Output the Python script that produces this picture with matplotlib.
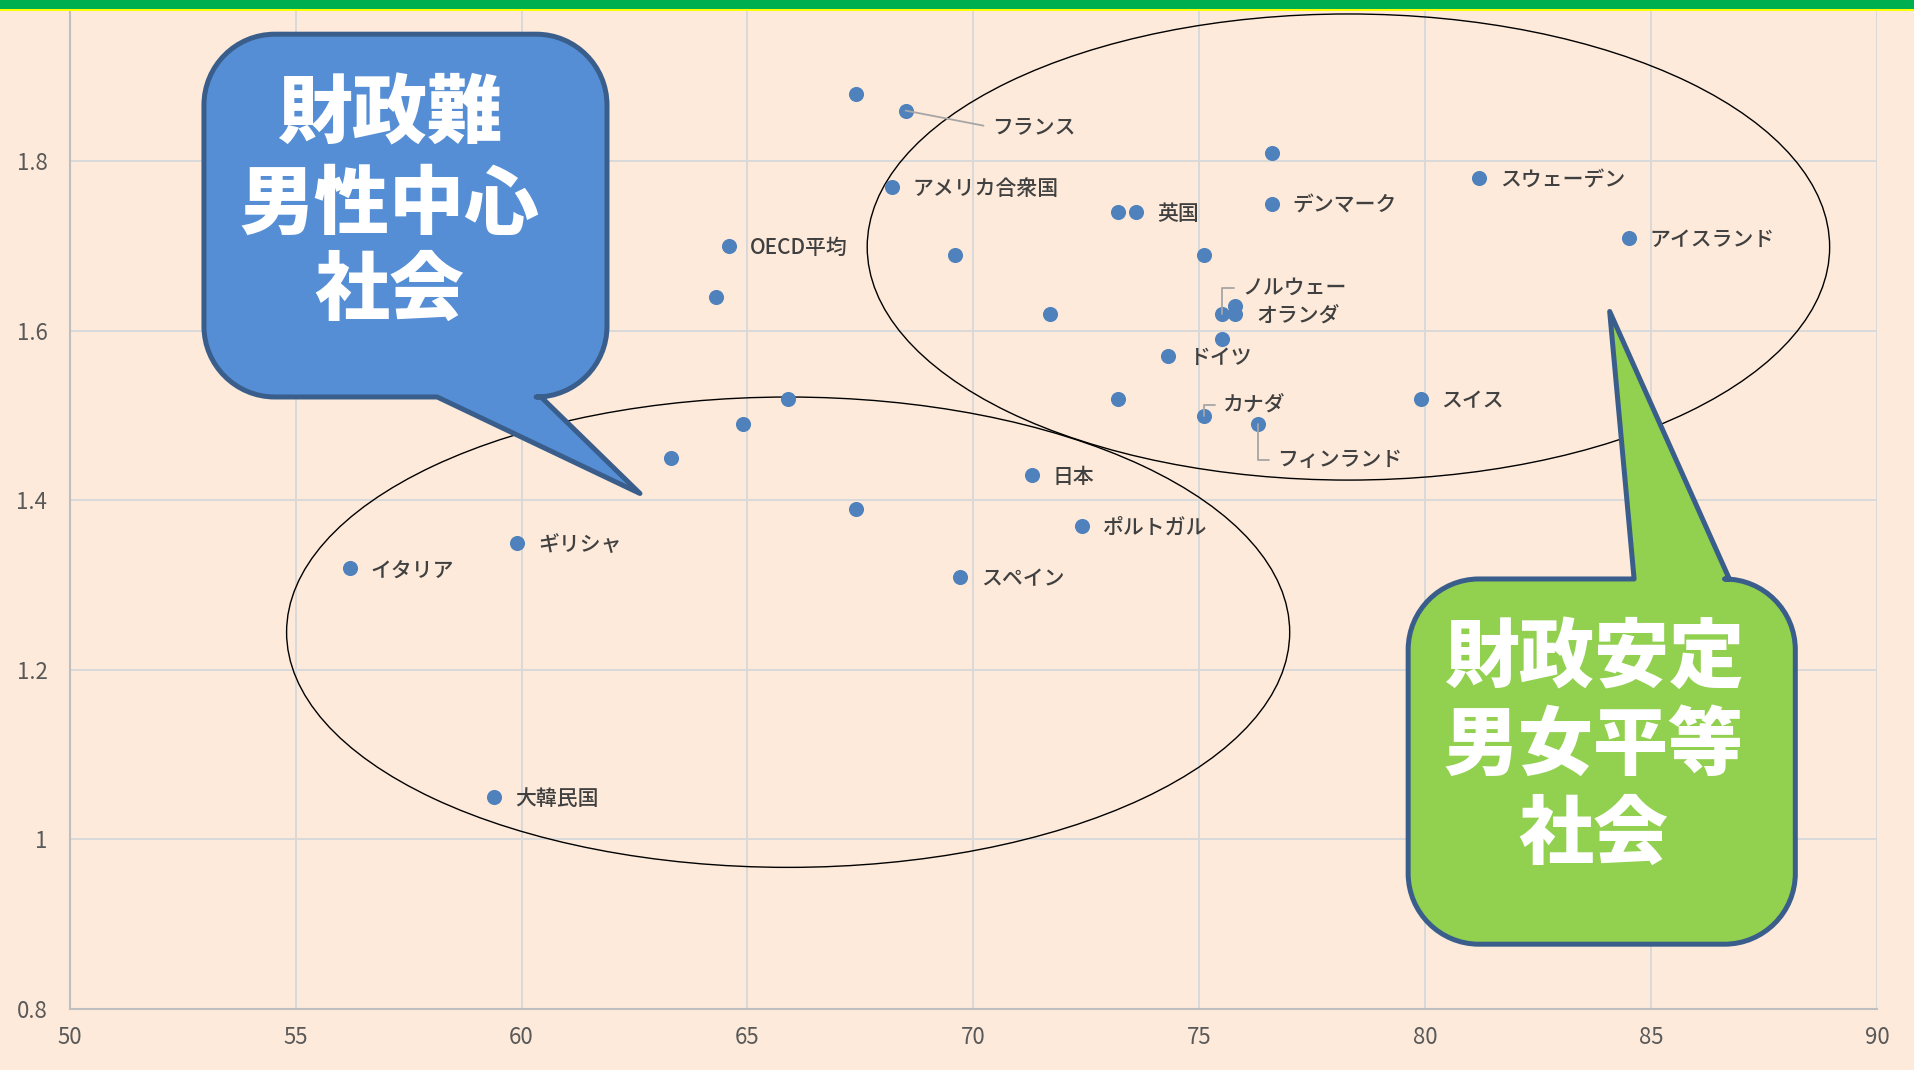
import matplotlib
matplotlib.use("Agg")
import matplotlib.pyplot as plt
from matplotlib.patches import Ellipse, PathPatch, Rectangle
from matplotlib.path import Path
from matplotlib.transforms import Affine2D

plt.rcParams['font.family'] = ['Noto Sans CJK JP', 'DejaVu Sans']

# === DATA ===
# female employment rate (x) vs total fertility rate (y)
countries = ['', 'フランス', '', 'アメリカ合衆国', 'スウェーデン', '', '英国', 'デンマーク',
             'アイスランド', 'OECD平均', '', '', '', 'ノルウェー', 'オランダ', '', '', '',
             'ドイツ', '', '', 'スイス', 'カナダ', 'フィンランド', '', '', '日本', '',
             'ポルトガル', 'ギリシャ', 'イタリア', 'スペイン', '大韓民国']
emp_rate = [67.4, 68.5, 76.6, 68.2, 81.2, 73.2, 73.6, 76.6,
            84.5, 64.6, 69.6, 75.1, 64.3, 75.5, 75.8, 75.8, 71.7, 75.5,
            74.3, 65.9, 73.2, 79.9, 75.1, 76.3, 64.9, 63.3, 71.3, 67.4,
            72.4, 59.9, 56.2, 69.7, 59.4]
fertility = [1.88, 1.86, 1.81, 1.77, 1.78, 1.74, 1.74, 1.75,
             1.71, 1.70, 1.69, 1.69, 1.64, 1.62, 1.62, 1.63, 1.62, 1.59,
             1.57, 1.52, 1.52, 1.52, 1.50, 1.49, 1.49, 1.45, 1.43, 1.39,
             1.37, 1.35, 1.32, 1.31, 1.05]

x_ticks = [50, 55, 60, 65, 70, 75, 80, 85, 90]
y_ticks = [0.8, 1.0, 1.2, 1.4, 1.6, 1.8]
y_tick_labels = ['0.8', '1', '1.2', '1.4', '1.6', '1.8']

bubble_left = ['財政難', '男性中心', '社会']
bubble_right = ['財政安定', '男女平等', '社会']

# label offsets (points) for labels with leader lines
leaders = {
    'フランス': (62, -12, 'arc3'),
    'ノルウェー': (15, 19, 'angle,angleA=0,angleB=90,rad=0'),
    'カナダ': (14, 8, 'angle,angleA=0,angleB=90,rad=0'),
    'フィンランド': (14, -26, 'angle,angleA=0,angleB=90,rad=0'),
}

bg = '#FDEADA'
dot = '#4F81BD'
grid = '#D9D9D9'
tick_col = '#595959'
label_col = '#404040'

fig = plt.figure(figsize=(19.15, 10.70), dpi=100, facecolor=bg)
ax = fig.add_axes([0.0364, 0.0571, 0.9438, 0.9338])
ax.set_facecolor(bg)

ax.set_xlim(50, 90)
ax.set_ylim(0.8, 1.979)
ax.set_xticks(x_ticks)
ax.set_yticks(y_ticks)
ax.set_yticklabels(y_tick_labels)
ax.grid(True, color=grid, linewidth=1.4)
ax.set_axisbelow(True)
for s in ['top', 'right']:
    ax.spines[s].set_visible(False)
for s in ['bottom', 'left']:
    ax.spines[s].set_color('#BFBFBF')
    ax.spines[s].set_linewidth(1.5)
ax.tick_params(length=0, labelcolor=tick_col, labelsize=14)
ax.tick_params(axis='y', pad=16)
ax.tick_params(axis='x', pad=12)
for lab in ax.get_xticklabels() + ax.get_yticklabels():
    lab.set_family(['Liberation Sans Narrow', 'Noto Sans CJK JP'])
    lab.set_fontsize(16)

ax.scatter(emp_rate, fertility, s=118, color=dot, zorder=3, linewidths=0)

for name, x, y in zip(countries, emp_rate, fertility):
    if not name:
        continue
    if name in leaders:
        dx, dy, cs = leaders[name]
        ax.annotate(name, (x, y), xytext=(dx, dy), textcoords='offset points',
                    ha='left', va='center', fontsize=15, color=label_col,
                    fontweight='medium',
                    arrowprops=dict(arrowstyle='-', color='#A6A6A6', lw=1.3,
                                    connectionstyle=cs, shrinkA=4, shrinkB=0,
                                    relpos=(0, 0.5)),
                    zorder=4)
    else:
        ax.annotate(name, (x, y), xytext=(15, -1.5), textcoords='offset points',
                    ha='left', va='center', fontsize=15, color=label_col,
                    fontweight='medium', zorder=4)

# ellipses around the two groups
ax.add_patch(Ellipse((78.3, 1.699), 21.3, 0.55, fill=False, ec='black', lw=1.0,
                     zorder=2, clip_on=False))
ax.add_patch(Ellipse((65.9, 1.2445), 22.2, 0.555, fill=False, ec='black', lw=1.0,
                     zorder=2, clip_on=False))

# reference-pixel transform (1568 x 876, y down) for the callouts
ref = Affine2D().scale(1 / 1568, -1 / 876).translate(0, 1) + fig.transFigure


def callout(x0, y0, x1, y1, r, tail, side):
    k = 0.5523 * r
    v = [(x0 + r, y0)]
    c = [Path.MOVETO]
    if side == 'top':
        v += tail
        c += [Path.LINETO] * len(tail)
    v += [(x1 - r, y0), (x1 - r + k, y0), (x1, y0 + r - k), (x1, y0 + r),
          (x1, y1 - r), (x1, y1 - r + k), (x1 - r + k, y1), (x1 - r, y1)]
    c += [Path.LINETO, Path.CURVE4, Path.CURVE4, Path.CURVE4,
          Path.LINETO, Path.CURVE4, Path.CURVE4, Path.CURVE4]
    if side == 'bottom':
        v += tail
        c += [Path.LINETO] * len(tail)
    v += [(x0 + r, y1), (x0 + r - k, y1), (x0, y1 - r + k), (x0, y1 - r),
          (x0, y0 + r), (x0, y0 + r - k), (x0 + r - k, y0), (x0 + r, y0),
          (x0 + r, y0)]
    c += [Path.LINETO, Path.CURVE4, Path.CURVE4, Path.CURVE4,
          Path.LINETO, Path.CURVE4, Path.CURVE4, Path.CURVE4, Path.CLOSEPOLY]
    return Path(v, c)


blue_path = callout(167, 28, 497, 325, 58, [(443, 325), (524, 404), (358, 325)], 'bottom')
green_path = callout(1153, 474, 1470, 773, 58, [(1338, 474), (1318, 255), (1416, 474)], 'top')
fig.patches.append(PathPatch(blue_path, transform=ref, fc='#558ED5', ec='#3A5E8C',
                             lw=3.6, zorder=5, joinstyle='round'))
fig.patches.append(PathPatch(green_path, transform=ref, fc='#92D050', ec='#3A5E8C',
                             lw=3.6, zorder=5, joinstyle='round'))

for line, yy in zip(bubble_left, [94, 168, 239]):
    fig.text(319, yy, line, transform=ref, ha='center', va='center', fontsize=54,
             fontweight='heavy', color='white', zorder=6)
for line, yy in zip(bubble_right, [539, 611, 684]):
    fig.text(1305, yy, line, transform=ref, ha='center', va='center', fontsize=54,
             fontweight='heavy', color='white', zorder=6)

# green bar with yellow rule on top
fig.patches.append(Rectangle((0, 1 - 9 / 1070), 1, 9 / 1070, transform=fig.transFigure,
                             fc='#00B050', ec='none', zorder=7))
fig.patches.append(Rectangle((0, 1 - 11 / 1070), 1, 2 / 1070, transform=fig.transFigure,
                             fc='#FFFF00', ec='none', zorder=7))

fig.savefig('out.png', dpi=100, facecolor=bg)
